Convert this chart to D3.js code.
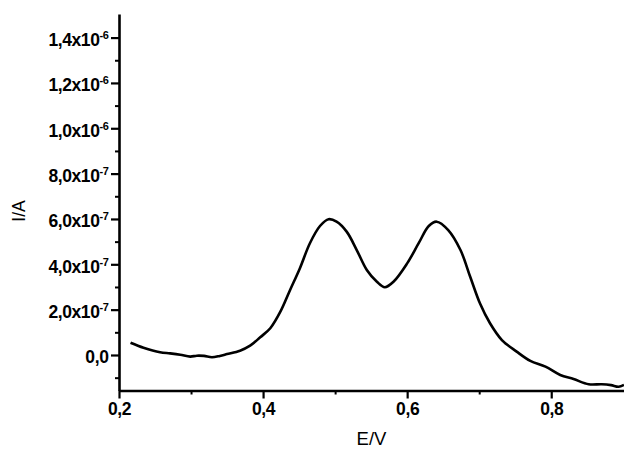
<!DOCTYPE html>
<html>
<head>
<meta charset="utf-8">
<script src="https://cdn.jsdelivr.net/npm/d3@7"></script>
<style>
  html, body { margin: 0; padding: 0; background: #fff; }
  svg { display: block; }
</style>
</head>
<body>
<svg id="chart" width="624" height="450"></svg>
<script>
// ---- data (E in V, I in units of 1e-7 A) ----
const potentials = [0.216, 0.234, 0.257, 0.271, 0.285, 0.299, 0.308, 0.318, 0.329, 0.340, 0.350, 0.368,
  0.382, 0.396, 0.410, 0.424, 0.4375, 0.451, 0.465, 0.479, 0.491, 0.502, 0.516, 0.530, 0.544, 0.558,
  0.569, 0.581, 0.600, 0.616, 0.630, 0.641, 0.657, 0.674, 0.6875, 0.701, 0.715, 0.7315, 0.752, 0.771,
  0.792, 0.8125, 0.831, 0.852, 0.870, 0.883, 0.8935, 0.901];
const currents = [0.54, 0.32, 0.12, 0.07, 0.01, -0.07, -0.03, -0.04, -0.10, -0.04, 0.04, 0.19,
  0.41, 0.78, 1.18, 1.91, 2.87, 3.82, 4.93, 5.69, 5.99, 5.88, 5.44, 4.63, 3.75, 3.23,
  2.99, 3.23, 4.04, 4.93, 5.69, 5.88, 5.51, 4.63, 3.45, 2.28, 1.40, 0.66, 0.15, -0.26,
  -0.51, -0.88, -1.06, -1.29, -1.29, -1.33, -1.40, -1.32];
const currentScale = 1e-7;

const xTickValues = [0.2, 0.4, 0.6, 0.8];
const xTickLabels = ["0,2", "0,4", "0,6", "0,8"];
const xMinorTicks = [0.3, 0.5, 0.7];

const yTickValues = [0, 2e-7, 4e-7, 6e-7, 8e-7, 1.0e-6, 1.2e-6, 1.4e-6];
const yTickMantissas = ["0,0", "2,0x10", "4,0x10", "6,0x10", "8,0x10", "1,0x10", "1,2x10", "1,4x10"];
const yTickExponents = ["", "-7", "-7", "-7", "-7", "-6", "-6", "-6"];
const yMinorTicks = [-1e-7, 1e-7, 3e-7, 5e-7, 7e-7, 9e-7, 1.1e-6, 1.3e-6];

const xTitle = "E/V";
const yTitle = "I/A";

(function () {
// ---- layout ----
const svg = d3.select("#chart");
const mLeft = 119, mRight = 624, mTop = 14, mBottom = 390.5;

const x = d3.scaleLinear().domain([0.2, 0.901]).range([mLeft, mRight]);
const y = d3.scaleLinear().domain([-1.566e-7, 1.504e-6]).range([mBottom, mTop]);

const font = "'Liberation Sans', Arial, sans-serif";

// minor ticks
svg.append("g").attr("transform", `translate(${mLeft},0)`)
  .call(d3.axisLeft(y).tickValues(yMinorTicks).tickSize(4).tickFormat("").tickSizeOuter(0))
  .call(g => g.select(".domain").remove())
  .call(g => g.selectAll("line").attr("stroke", "#000").attr("stroke-width", 2));
svg.append("g").attr("transform", `translate(0,${mBottom})`)
  .call(d3.axisBottom(x).tickValues(xMinorTicks).tickSize(4).tickFormat("").tickSizeOuter(0))
  .call(g => g.select(".domain").remove())
  .call(g => g.selectAll("line").attr("stroke", "#000").attr("stroke-width", 2));

// major y axis
const yAxisG = svg.append("g").attr("transform", `translate(${mLeft},0)`)
  .call(d3.axisLeft(y).tickValues(yTickValues).tickSize(8).tickSizeOuter(0).tickFormat(""));
yAxisG.select(".domain").attr("stroke", "#000").attr("stroke-width", 2.6);
yAxisG.selectAll(".tick line").attr("stroke", "#000").attr("stroke-width", 2.2);
yAxisG.selectAll(".tick").each(function(d, i) {
  const t = d3.select(this).append("text")
    .attr("x", -10.5).attr("y", 0).attr("dy", "7.8")
    .attr("text-anchor", "end")
    .attr("fill", "#000")
    .style("font-family", font).style("font-weight", "bold").style("font-size", "17.5px")
    .style("letter-spacing", "-0.4px");
  t.append("tspan").text(yTickMantissas[i]);
  if (yTickExponents[i]) {
    t.append("tspan").attr("dy", "-6.8").style("font-size", "11px").text(yTickExponents[i]);
  }
});

// major x axis
const xAxisG = svg.append("g").attr("transform", `translate(0,${mBottom})`)
  .call(d3.axisBottom(x).tickValues(xTickValues).tickSize(8).tickSizeOuter(0)
    .tickFormat((d, i) => xTickLabels[i]));
xAxisG.select(".domain").attr("stroke", "#000").attr("stroke-width", 2.6);
xAxisG.selectAll(".tick line").attr("stroke", "#000").attr("stroke-width", 2.2);
xAxisG.selectAll(".tick text")
  .attr("y", 12).attr("dy", "0.71em").attr("fill", "#000")
  .style("font-family", font).style("font-weight", "bold").style("font-size", "17.5px")
  .style("letter-spacing", "-0.4px");

// curve
const line = d3.line()
  .x((d, i) => x(potentials[i]))
  .y((d, i) => y(currents[i] * currentScale))
  .curve(d3.curveCatmullRom.alpha(0.5));
svg.append("path")
  .datum(currents)
  .attr("d", line)
  .attr("fill", "none")
  .attr("stroke", "#000")
  .attr("stroke-width", 2.6)
  .attr("stroke-linejoin", "round");

// titles
svg.append("text")
  .attr("x", (mLeft + mRight) / 2).attr("y", 445)
  .attr("text-anchor", "middle")
  .style("font-family", font).style("font-size", "18.5px")
  .text(xTitle);
svg.append("text")
  .attr("transform", `translate(25,211) rotate(-90)`)
  .attr("text-anchor", "middle")
  .style("font-family", font).style("font-size", "17.5px")
  .text(yTitle);
})();
</script>
</body>
</html>
